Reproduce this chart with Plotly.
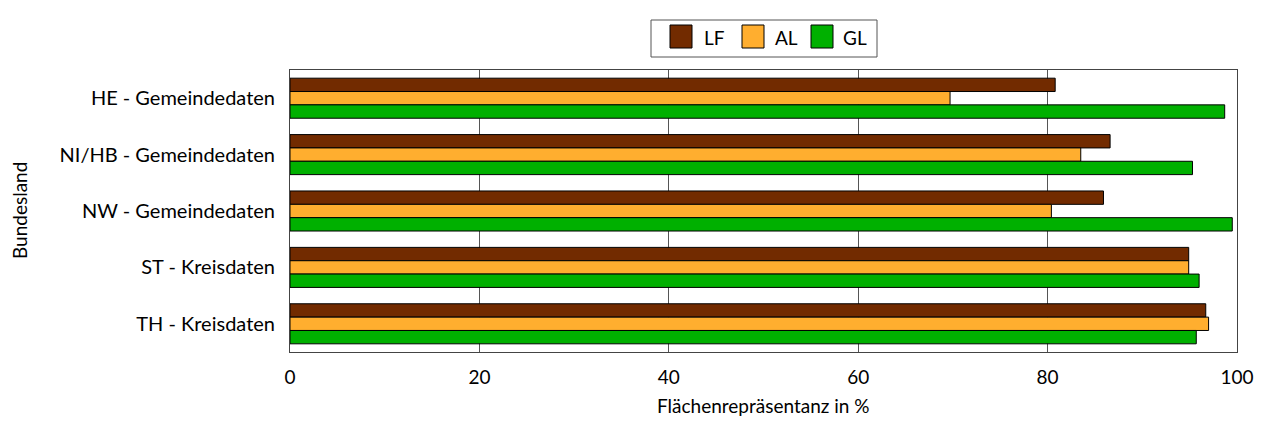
import plotly.graph_objects as go

categories = ["HE - Gemeindedaten", "NI/HB - Gemeindedaten", "NW - Gemeindedaten",
              "ST - Kreisdaten", "TH - Kreisdaten"]
series_names = ["LF", "AL", "GL"]
lf_values = [80.8, 86.6, 85.9, 94.9, 96.7]
al_values = [69.7, 83.5, 80.4, 94.9, 97.0]
gl_values = [98.7, 95.3, 99.5, 96.0, 95.7]
colors = ["#722B00", "#FFAE2F", "#00B000"]
x_ticks = [0, 20, 40, 60, 80, 100]

FONT = "Lato, 'Open Sans', sans-serif"

OFF = 8  # default page body margin
W, H = 1264 - 2 * OFF, 427 - 2 * OFF
# plot area in reference (window) pixels
L, R, T, B = 290, 1237, 70, 352


def px2x(px):
    return (px - L) / (R - L)


def py2y(py):
    return (B - py) / (B - T)


fig = go.Figure()
for name, vals, col in zip(series_names, [lf_values, al_values, gl_values], colors):
    fig.add_trace(go.Bar(
        y=categories, x=vals, name=name, orientation="h", showlegend=False,
        marker=dict(color=col, line=dict(color="black", width=1)),
    ))

# manual legend (larger swatches as in the reference)
shapes = [dict(type="rect", xref="paper", yref="paper",
               x0=px2x(651), x1=px2x(877), y0=py2y(57), y1=py2y(20),
               line=dict(color="#555555", width=1), fillcolor="white")]
annotations = []
sw_left = [670, 742, 811]
txt_left = [702, 773, 841]
for name, col, sx, tx in zip(series_names, colors, sw_left, txt_left):
    shapes.append(dict(type="rect", xref="paper", yref="paper",
                       x0=px2x(sx), x1=px2x(sx + 22), y0=py2y(48), y1=py2y(25),
                       line=dict(color="black", width=1), fillcolor=col))
    annotations.append(dict(text=name, xref="paper", yref="paper", x=px2x(tx), y=py2y(37),
                            xanchor="left", yanchor="middle", showarrow=False,
                            font=dict(size=19, family=FONT, color="black")))

annotations.append(dict(text="Flächenrepräsentanz in %", xref="paper", yref="paper",
                        x=0.5, y=py2y(405), xanchor="center", yanchor="middle",
                        showarrow=False, font=dict(size=19, family=FONT, color="black")))
annotations.append(dict(text="Bundesland", xref="paper", yref="paper",
                        x=px2x(19), y=0.5, xanchor="center", yanchor="middle", textangle=-90,
                        showarrow=False, font=dict(size=19, family=FONT, color="black")))

fig.update_layout(
    width=W, height=H,
    barmode="group", bargap=0.29, bargroupgap=0,
    paper_bgcolor="white", plot_bgcolor="white",
    margin=dict(l=L - OFF, r=W - (R - OFF), t=T - OFF, b=H - (B - OFF), autoexpand=False),
    font=dict(family=FONT, size=20, color="black"),
    showlegend=False,
    shapes=shapes, annotations=annotations,
    xaxis=dict(
        range=[0, 100], tickvals=x_ticks, showgrid=True, gridcolor="#555555", gridwidth=1,
        showline=True, linecolor="#444444", linewidth=1, mirror=True, zeroline=False,
        ticks="", automargin=False, ticklabelstandoff=8,
        tickfont=dict(size=19, family=FONT),
    ),
    yaxis=dict(
        autorange="reversed", showline=True, linecolor="#444444", linewidth=1, mirror=True,
        ticks="", automargin=False, ticklabelstandoff=10,
        tickfont=dict(size=20, family=FONT),
    ),
)
fig.write_html("out.html")
